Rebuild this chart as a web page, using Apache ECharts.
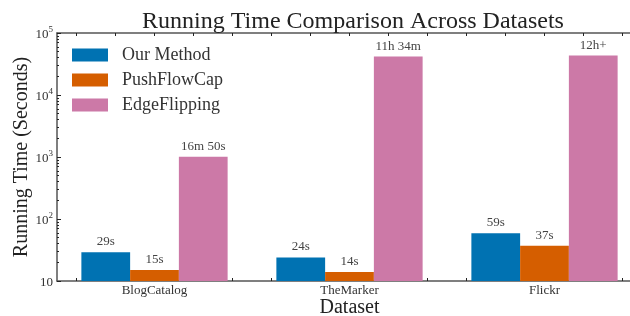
<!DOCTYPE html>
<html>
<head>
<meta charset="utf-8">
<script src="https://cdn.jsdelivr.net/npm/echarts@6/dist/echarts.min.js"></script>
<style>
  html, body { margin: 0; padding: 0; background: #fff; }
  #chart { width: 630px; height: 316px; }
</style>
</head>
<body>
<div id="chart"></div>
<script>
// data (seconds)
var datasets = ['BlogCatalog', 'TheMarker', 'Flickr']
var seriesNames = ['Our Method', 'PushFlowCap', 'EdgeFlipping']
var ourMethod = [29, 24, 59]
var pushFlowCap = [15, 14, 37]
var edgeFlipping = [1010, 41640, 43200]
var ourLabels = ['29s', '24s', '59s']
var pushLabels = ['15s', '14s', '37s']
var edgeLabels = ['16m 50s', '11h 34m', '12h+']
var xMinorTicks = [-0.4, -0.2, 0, 0.2, 0.4, 0.6, 0.8, 1, 1.2, 1.4, 1.6, 1.8, 2, 2.2, 2.4]

var colors = ['#0072B2', '#D55E00', '#CC79A7']
var font = 'Liberation Serif'
var textColor = '#333'
var axisColor = '#555'

// log minor tick positions, in log10 space
var yMinor = []
for (var e = 1; e < 5; e++) {
  for (var k = 2; k <= 9; k++) yMinor.push(Math.log10(k * Math.pow(10, e)))
}

var chart = echarts.init(document.getElementById('chart'))

function barSeries (name, data, labels, color) {
  return {
    name: name,
    type: 'bar',
    xAxisIndex: 0,
    yAxisIndex: 0,
    barGap: '0%',
    barCategoryGap: '25%',
    itemStyle: { color: color },
    label: {
      show: true,
      position: 'top',
      distance: 4,
      fontFamily: font,
      fontSize: 13,
      color: '#444',
      formatter: function (p) { return labels[p.dataIndex] }
    },
    data: data
  }
}

var option = {
  animation: false,
  textStyle: { fontFamily: font },
  title: {
    text: 'Running Time Comparison Across Datasets',
    left: 348,
    textAlign: 'center',
    top: 5,
    textStyle: { fontFamily: font, fontSize: 24, fontWeight: 'normal', color: '#222' }
  },
  legend: {
    data: seriesNames,
    orient: 'vertical',
    left: 72,
    top: 46,
    itemWidth: 36,
    itemHeight: 13,
    itemGap: 7,
    icon: 'rect',
    padding: 0,
    textStyle: { fontFamily: font, fontSize: 18, color: textColor, padding: [0, 0, 0, 9] }
  },
  grid: { left: 57, right: -12, top: 33, bottom: 35, containLabel: false, outerBoundsMode: 'none' },
  xAxis: [
    {
      type: 'category',
      data: datasets,
      name: 'Dataset',
      nameLocation: 'middle',
      nameGap: 17,
      nameMoveOverlap: false,
      nameTextStyle: { fontFamily: font, fontSize: 20, color: '#222' },
      axisLine: { onZero: false, lineStyle: { color: axisColor, width: 1.5 } },
      axisTick: { show: false },
      axisLabel: { fontFamily: font, fontSize: 13, color: textColor, margin: 3 },
      splitLine: { show: false }
    },
    {
      type: 'value',
      min: -0.5,
      max: 2.5,
      position: 'bottom',
      axisLine: { show: false, onZero: false },
      axisTick: { show: true, inside: true, length: 3, customValues: xMinorTicks, lineStyle: { color: '#222' } },
      axisLabel: { show: false },
      splitLine: { show: false }
    },
    {
      type: 'value',
      min: -0.5,
      max: 2.5,
      position: 'top',
      axisLine: { show: true, onZero: false, lineStyle: { color: axisColor, width: 1.5 } },
      axisTick: { show: true, inside: true, length: 3, customValues: xMinorTicks, lineStyle: { color: '#222' } },
      axisLabel: { show: false },
      splitLine: { show: false }
    }
  ],
  yAxis: [
    {
      type: 'log',
      logBase: 10,
      min: 10,
      max: 100000,
      name: 'Running Time (Seconds)',
      nameLocation: 'middle',
      nameGap: 25,
      nameMoveOverlap: false,
      nameRotate: 90,
      nameTextStyle: { fontFamily: font, fontSize: 20, color: '#222' },
      axisLine: { show: true, onZero: false, lineStyle: { color: axisColor, width: 1.5 } },
      axisTick: { show: true, inside: true, length: 4, lineStyle: { color: '#222' } },
      splitLine: { show: false },
      axisLabel: {
        margin: 4,
        fontFamily: font,
        color: textColor,
        formatter: function (v) {
          var p = Math.round(Math.log10(v))
          return p === 1 ? '{b|10}' : '{b|10}{s|' + p + '}'
        },
        rich: {
          b: { fontFamily: font, fontSize: 13, color: textColor, lineHeight: 16, verticalAlign: 'bottom' },
          s: { fontFamily: font, fontSize: 9, color: textColor, lineHeight: 16, verticalAlign: 'top', padding: [0, 0, 4, 0] }
        }
      }
    },
    {
      type: 'value',
      min: 1,
      max: 5,
      position: 'left',
      axisLine: { show: false, onZero: false },
      axisTick: { show: true, inside: true, length: 2, customValues: yMinor, lineStyle: { color: '#222' } },
      axisLabel: { show: false },
      splitLine: { show: false }
    }
  ],
  series: [
    barSeries(seriesNames[0], ourMethod, ourLabels, colors[0]),
    barSeries(seriesNames[1], pushFlowCap, pushLabels, colors[1]),
    barSeries(seriesNames[2], edgeFlipping, edgeLabels, colors[2])
  ]
}

chart.setOption(option)
</script>
</body>
</html>
